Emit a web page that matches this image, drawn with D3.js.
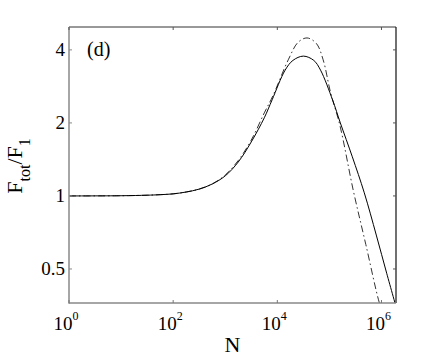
<!DOCTYPE html>
<html>
<head>
<meta charset="utf-8">
<script src="https://cdn.jsdelivr.net/npm/d3@7"></script>
<style>
  body { margin: 0; background: #fff; }
</style>
</head>
<body>
<svg id="chart"></svg>
<script>
var width = 436, height = 357
var margin = {top: 27, right: 40, bottom: 54, left: 69}
var serif = "'Liberation Serif', 'Times New Roman', Times, serif"

// log10(N) and F_tot/F_1
var solidLogN = [0, 1, 1.5, 1.75, 2, 2.25, 2.5, 2.75, 3, 3.25, 3.5, 3.75, 3.9, 4.15, 4.3, 4.5, 4.7, 4.83, 5.06, 5.21, 5.44, 5.67, 5.9, 6.1, 6.3]
var solidVal  = [1, 1.002, 1.007, 1.012, 1.02, 1.038, 1.067, 1.12, 1.21, 1.38, 1.67, 2.1, 2.49, 3.30, 3.62, 3.77, 3.62, 3.30, 2.49, 2.0, 1.45, 1.03, 0.69, 0.48, 0.337]
var dashLogN  = [0, 1, 1.5, 1.75, 2, 2.25, 2.5, 2.75, 3, 3.25, 3.5, 3.75, 3.92, 4.21, 4.4, 4.57, 4.75, 4.88, 5.02, 5.2, 5.46, 5.7, 5.96, 6.05]
var dashVal   = [1, 1.002, 1.007, 1.012, 1.02, 1.038, 1.067, 1.12, 1.22, 1.40, 1.70, 2.2, 2.6, 3.64, 4.3, 4.48, 4.25, 3.64, 2.68, 1.96, 1.05, 0.63, 0.362, 0.32]

var xTicks = [0, 2, 4, 6]
var yTicks = [0.5, 1, 2, 4]

var svg = d3.select("#chart")
    .attr("width", width)
    .attr("height", height)
    .style("font-family", serif)

var x = d3.scaleLog()
    .domain([1, 1.9e6])
    .range([margin.left, width - margin.right])

var y = d3.scaleLog()
    .domain([0.362, 4.97])
    .range([height - margin.bottom, margin.top])

var x0 = x.range()[0], x1 = x.range()[1]
var y0 = y.range()[0], y1 = y.range()[1]

svg.append("clipPath")
    .attr("id", "clip")
  .append("rect")
    .attr("x", x0).attr("y", y1)
    .attr("width", x1 - x0).attr("height", y0 - y1)

var line = d3.line()
    .x(d => x(Math.pow(10, d[0])))
    .y(d => y(d[1]))
    .curve(d3.curveCatmullRom.alpha(0.5))

var g = svg.append("g").attr("clip-path", "url(#clip)")

g.append("path")
    .datum(dashLogN.map((v, i) => [v, dashVal[i]]))
    .attr("d", line)
    .attr("fill", "none")
    .attr("stroke", "#333")
    .attr("stroke-width", 1)
    .attr("stroke-dasharray", "7,3,1.5,3")

g.append("path")
    .datum(solidLogN.map((v, i) => [v, solidVal[i]]))
    .attr("d", line)
    .attr("fill", "none")
    .attr("stroke", "#000")
    .attr("stroke-width", 1)

// frame
svg.append("line").attr("x1", x0).attr("x2", x1).attr("y1", y1).attr("y2", y1)
    .attr("stroke", "#333").attr("stroke-width", 1)
svg.append("line").attr("x1", x1).attr("x2", x1).attr("y1", y1).attr("y2", y0)
    .attr("stroke", "#111").attr("stroke-width", 1.2)
svg.append("line").attr("x1", x0).attr("x2", x0).attr("y1", y1).attr("y2", y0 + 0.75)
    .attr("stroke", "#888").attr("stroke-width", 1.5)
svg.append("line").attr("x1", x0).attr("x2", x1).attr("y1", y0).attr("y2", y0)
    .attr("stroke", "#888").attr("stroke-width", 1.5)

// x ticks (bottom and top)
xTicks.forEach(function(e) {
    var px = x(Math.pow(10, e))
    svg.append("line").attr("x1", px).attr("x2", px).attr("y1", y0).attr("y2", y0 - 3)
        .attr("stroke", "#777")
    svg.append("line").attr("x1", px).attr("x2", px).attr("y1", y1).attr("y2", y1 + 3)
        .attr("stroke", "#555")
    var t = svg.append("text")
        .attr("x", px - 3)
        .attr("y", y0 + 27)
        .attr("text-anchor", "middle")
        .attr("font-family", serif)
        .attr("font-size", 19)
    t.append("tspan").text("10")
    t.append("tspan").text(e)
        .attr("font-size", 12)
        .attr("dy", -10)
})

// y ticks (left and right)
yTicks.forEach(function(v) {
    var py = y(v)
    svg.append("line").attr("x1", x0).attr("x2", x0 + 3).attr("y1", py).attr("y2", py)
        .attr("stroke", "#888")
    svg.append("line").attr("x1", x1).attr("x2", x1 - 3).attr("y1", py).attr("y2", py)
        .attr("stroke", "#555")
    svg.append("text")
        .attr("x", x0 - 4)
        .attr("y", py + 6.5)
        .attr("text-anchor", "end")
        .attr("font-family", serif)
        .attr("font-size", 19)
        .text(v)
})

// axis labels
svg.append("text")
    .attr("x", (x0 + x1) / 2)
    .attr("y", 352)
    .attr("text-anchor", "middle")
    .attr("font-family", serif)
    .attr("font-size", 22)
    .text("N")

var yl = svg.append("text")
    .attr("transform", "translate(22,166) rotate(-90)")
    .attr("text-anchor", "middle")
    .attr("font-family", serif)
    .attr("font-size", 22)
yl.append("tspan").text("F")
yl.append("tspan").text("tot").attr("font-size", 16).attr("dy", 8)
yl.append("tspan").text("/F").attr("dy", -8)
yl.append("tspan").text("1").attr("font-size", 16).attr("dy", 8)

svg.append("text")
    .attr("x", 87)
    .attr("y", 56)
    .attr("font-family", serif)
    .attr("font-size", 20)
    .text("(d)")
</script>
</body>
</html>
